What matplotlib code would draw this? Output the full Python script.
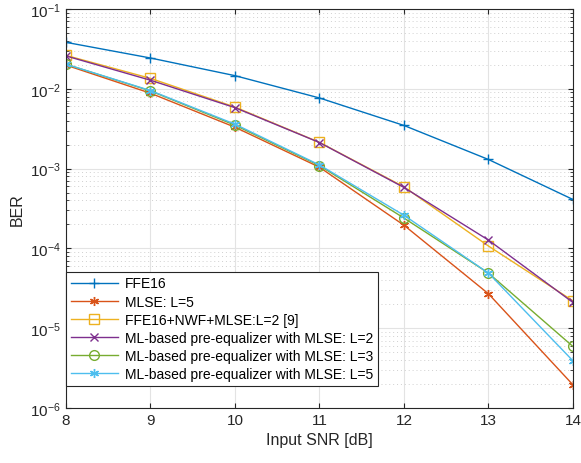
import matplotlib
matplotlib.use("Agg")
import matplotlib.pyplot as plt
import numpy as np

plt.rcParams['font.family'] = ['Liberation Sans', 'DejaVu Sans']

snr = [8, 9, 10, 11, 12, 13, 14]
ffe16 = [0.0382, 0.0243, 0.0146, 0.00767, 0.00347, 0.00130, 0.00041]
mlse_l5 = [0.0198, 0.0088, 0.0033, 0.00104, 0.000195, 2.7e-5, 1.95e-6]
ffe_nwf_mlse = [0.0262, 0.0135, 0.0059, 0.00213, 0.00059, 0.000107, 2.2e-5]
ml_l2 = [0.0258, 0.0128, 0.0058, 0.00212, 0.00058, 0.000127, 2.1e-5]
ml_l3 = [0.0203, 0.0094, 0.0035, 0.00109, 0.00024, 4.9e-5, 5.9e-6]
ml_l5 = [0.0203, 0.0095, 0.0036, 0.00111, 0.00026, 4.9e-5, 3.9e-6]

labels = ["FFE16", "MLSE: L=5", "FFE16+NWF+MLSE:L=2 [9]",
          "ML-based pre-equalizer with MLSE: L=2",
          "ML-based pre-equalizer with MLSE: L=3",
          "ML-based pre-equalizer with MLSE: L=5"]
colors = ["#0072BD", "#D95319", "#EDB120", "#7E2F8E", "#77AC30", "#4DBEEE"]
markers = ["+", (6, 2, 0), "s", "x", "o", (6, 2, 0)]
sizes = [7, 6.5, 6.5, 5.5, 7, 6.5]
series = [ffe16, mlse_l5, ffe_nwf_mlse, ml_l2, ml_l3, ml_l5]

fig = plt.figure(figsize=(5.81, 4.64), dpi=100)
ax = fig.add_axes([0.1136, 0.1185, 0.8726, 0.8600])

for y, lab, c, m, s in zip(series, labels, colors, markers, sizes):
    ax.semilogy(snr, y, color=c, marker=m, markersize=s, lw=1,
                markerfacecolor='none', markeredgewidth=1, label=lab)

ax.set_xlim(8, 14)
ax.set_ylim(1e-6, 1e-1)
ax.set_xticks(snr)
ax.grid(True, which='major', color='#e3e3e3', lw=0.8)
ax.grid(True, which='minor', axis='y', color='#d0d0d0', lw=0.7, ls=(0, (1, 3)))
ax.tick_params(which='both', direction='in', top=True, right=True,
               labelsize=11, colors='#262626')
ax.tick_params(axis='x', which='minor', bottom=False, top=False)
for sp in ax.spines.values():
    sp.set_color('#262626')
ax.set_xlabel("Input SNR [dB]", fontsize=11.5, color='#262626')
ax.set_ylabel("BER", fontsize=11.5, color='#262626')

leg = ax.legend(loc='lower left', bbox_to_anchor=(0.0, 0.055), fontsize=10,
                fancybox=False, edgecolor='#262626', framealpha=1,
                handlelength=3.4, labelspacing=0.3, borderpad=0.35,
                handletextpad=0.5, borderaxespad=0.0)
leg.get_frame().set_linewidth(0.8)

fig.savefig("out.png", dpi=100)
